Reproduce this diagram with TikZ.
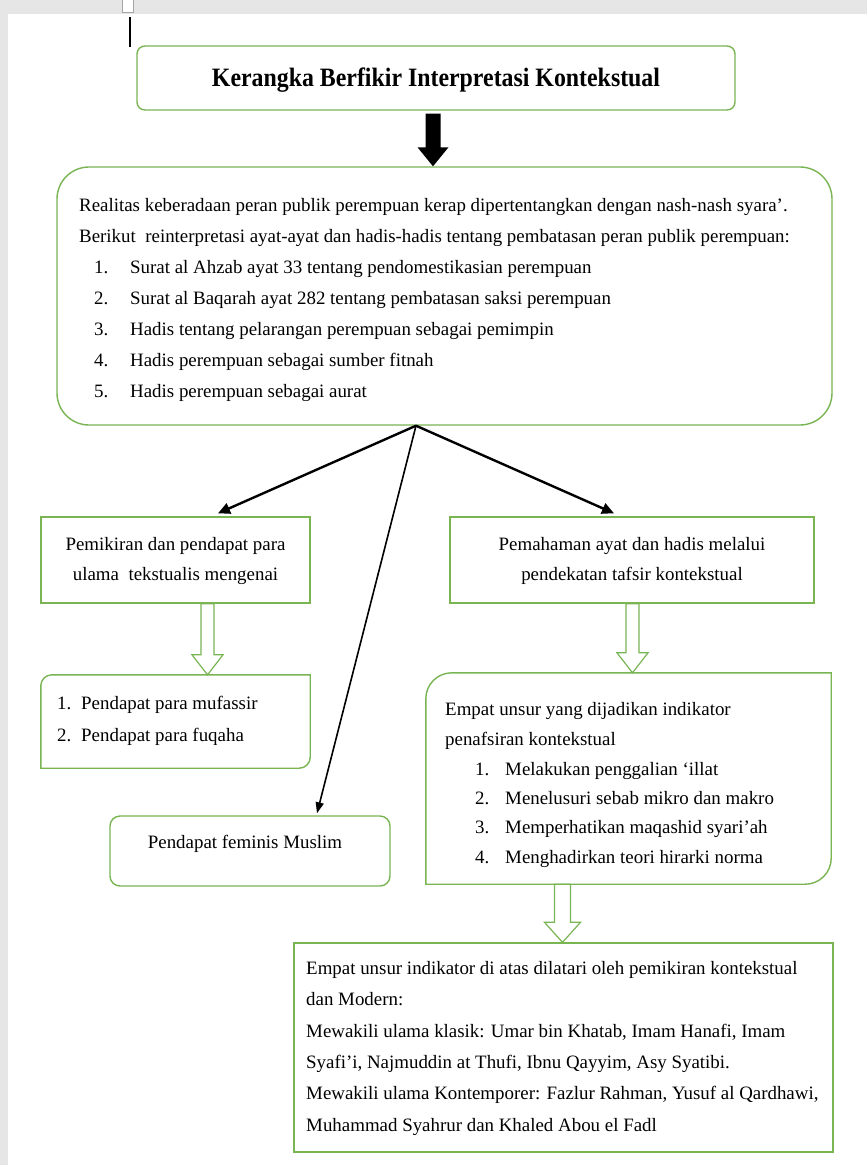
\documentclass[tikz,border=0pt]{standalone}
\usepackage{fontspec}
\setmainfont{Liberation Serif}
\newfontfamily\titlefont{Liberation Serif}[FakeStretch=0.9]
\usetikzlibrary{calc,arrows.meta}
\definecolor{gline}{RGB}{122,181,84}
\definecolor{pagegray}{RGB}{230,230,230}
\newcommand\hollowarrow[5]{% #1 top coord, #2 tip coord, #3 half shaft, #4 half head, #5 head length
  \draw[harrow] ($(#1)+(-#3,0)$) -- ($(#2)+(-#3,-#5)$) -- ($(#2)+(-#4,-#5)$) -- (#2)
    -- ($(#2)+(#4,-#5)$) -- ($(#2)+(#3,-#5)$) -- ($(#1)+(#3,0)$) -- cycle;}
% diagonal rounded box: #1 node name, #2 radius, #3 control offset (0.448*radius)
\newcommand\diagbox[3]{%
  \draw[gline, fill=white] (#1.south west) -- ($(#1.north west)+(0,#2)$)
    .. controls ($(#1.north west)+(0,#3)$) and ($(#1.north west)+(#3,0)$) .. ($(#1.north west)+(#2,0)$)
    -- (#1.north east) -- ($(#1.south east)+(0,-#2)$)
    .. controls ($(#1.south east)+(0,-#3)$) and ($(#1.south east)+(-#3,0)$) .. ($(#1.south east)+(-#2,0)$)
    -- cycle;}
\begin{document}
\begin{tikzpicture}[x=1pt,y=-1pt,
  body/.style={inner sep=0pt, anchor=base west, font=\fontsize{18.9}{22}\selectfont},
  cbody/.style={inner sep=0pt, anchor=base, font=\fontsize{18.9}{22}\selectfont},
  gbox/.style={draw=gline, line width=1.4pt, fill=white, inner sep=0pt},
  frame/.style={draw=none, inner sep=0pt},
  gline/.style={draw=gline, line width=1.4pt},
  harrow/.style={draw=gline, line width=1.2pt, fill=white},
  barrow/.style={line width=2.4pt, -{Triangle[length=12pt,width=11pt]}},
  marrow/.style={line width=1.6pt, -{Triangle[length=11pt,width=8pt]}}]
\useasboundingbox (0,0) rectangle (867,1165);
% page background (screenshot chrome)
\fill[white] (0,0) rectangle (867,1165);
\fill[pagegray] (0,0) rectangle (867,14);
\fill[pagegray] (0,0) rectangle (8,1165);
\draw[gray!70, fill=white, line width=0.8pt] (122,0) -- (122,12.5) -- (133,12.5) -- (133,0);
\draw[black, line width=1.1pt] (130,17) -- (130,47);

% boxes
\node[gbox, rounded corners=8pt, minimum width=598pt, minimum height=64pt] (T) at (436,78) {};
\node[gbox, rounded corners=32pt, minimum width=775pt, minimum height=258pt] (R) at (444.5,296) {};
\node[gbox, minimum width=269pt, minimum height=86pt] (L) at (175.5,560) {};
\node[gbox, minimum width=364pt, minimum height=86pt] (Q) at (632,560) {};
\node[frame, minimum width=269pt, minimum height=93pt] (M) at (175.5,721.5) {};
\diagbox{M}{11}{4.9}
\node[gbox, rounded corners=10pt, minimum width=280pt, minimum height=70pt] (F) at (250,851) {};
\node[frame, minimum width=405pt, minimum height=211pt] (E) at (628.5,778.5) {};
\diagbox{E}{26}{11.6}
\node[gbox, minimum width=539pt, minimum height=209pt] (B) at (563.5,1047.5) {};

% title text
\node[inner sep=0pt, anchor=base, font=\titlefont\bfseries\fontsize{26.5}{30}\selectfont] (tt) at (436,86) {Kerangka Berfikir Interpretasi Kontekstual};

% realitas text
\node[body] (r1) at (79,211) {Realitas keberadaan peran publik perempuan kerap dipertentangkan dengan nash-nash syara’.};
\node[body] (r2) at (79,242) {Berikut\ \ reinterpretasi ayat-ayat dan hadis-hadis tentang pembatasan peran publik perempuan:};
\node[body] (n1) at (94,273) {1.};
\node[body] (i1) at (130,273) {Surat al Ahzab ayat 33 tentang pendomestikasian perempuan};
\node[body] (n2) at (94,304) {2.};
\node[body] (i2) at (130,304) {Surat al Baqarah ayat 282 tentang pembatasan saksi perempuan};
\node[body] (n3) at (94,335) {3.};
\node[body] (i3) at (130,335) {Hadis tentang pelarangan perempuan sebagai pemimpin};
\node[body] (n4) at (94,366) {4.};
\node[body] (i4) at (130,366) {Hadis perempuan sebagai sumber fitnah};
\begin{scope}
\clip (0,0) rectangle (867,401);
\node[body] (n5) at (94,397) {5.};
\node[body] (i5) at (130,397) {Hadis perempuan sebagai aurat};
\end{scope}

% left / right boxes text
\node[cbody] (l1) at (175.5,550) {Pemikiran dan pendapat para};
\node[cbody] (l2) at (175.5,580) {ulama\ \ tekstualis mengenai};
\node[cbody] (q1) at (632,550) {Pemahaman ayat dan hadis melalui};
\node[cbody] (q2) at (632,580) {pendekatan tafsir kontekstual};

% mufassir box text
\node[body] (mn1) at (57,709) {1.};
\node[body] (m1) at (81,709) {Pendapat para mufassir};
\node[body] (mn2) at (57,741) {2.};
\node[body] (m2) at (81,741) {Pendapat para fuqaha};

% feminis text
\node[cbody] (f1) at (245,848) {Pendapat feminis Muslim};

% empat box text
\node[body] (e1) at (445,715) {Empat unsur yang dijadikan indikator};
\node[body] (e2) at (445,745) {penafsiran kontekstual};
\node[body] (en1) at (475,775) {1.};
\node[body] (ei1) at (505,775) {Melakukan penggalian ‘illat};
\node[body] (en2) at (475,804) {2.};
\node[body] (ei2) at (505,804) {Menelusuri sebab mikro dan makro};
\node[body] (en3) at (475,833) {3.};
\node[body] (ei3) at (505,833) {Memperhatikan maqashid syari’ah};
\node[body] (en4) at (475,863) {4.};
\node[body] (ei4) at (505,863) {Menghadirkan teori hirarki norma};

% bottom box text
\node[body] (b1) at (306,974) {Empat unsur indikator di atas dilatari oleh pemikiran kontekstual};
\node[body] (b2) at (306,1005) {dan Modern:};
\node[body] (b3) at (306,1037) {Mewakili ulama klasik: Umar bin Khatab, Imam Hanafi, Imam};
\node[body] (b4) at (306,1068) {Syafi’i, Najmuddin at Thufi, Ibnu Qayyim, Asy Syatibi.};
\node[body] (b5) at (306,1099) {Mewakili ulama Kontemporer: Fazlur Rahman, Yusuf al Qardhawi,};
\node[body] (b6) at (306,1131) {Muhammad Syahrur dan Khaled Abou el Fadl};

% black block arrow title -> realitas
\coordinate (ka0) at (433,0 |- T.south);
\coordinate (ka) at ($(ka0)+(0,3)$);
\coordinate (kb) at (433,0 |- R.north);
\fill[black] ($(ka)+(-7.5,0)$) -- ($(kb)+(-7.5,-19)$) -- ($(kb)+(-15.5,-19)$) -- (kb)
  -- ($(kb)+(15.5,-19)$) -- ($(kb)+(7.5,-19)$) -- ($(ka)+(7.5,0)$) -- cycle;

% branching arrows
\coordinate (src) at (416,0 |- R.south);
\coordinate (lt0) at (218,0 |- L.north);
\coordinate (lt) at ($(lt0)+(0,-3)$);
\coordinate (qt0) at (614,0 |- Q.north);
\coordinate (qt) at ($(qt0)+(0,-3)$);
\coordinate (ft0) at (317,0 |- F.north);
\coordinate (ft) at ($(ft0)+(0,-2)$);
\draw[barrow] (src) -- (lt);
\draw[barrow] (src) -- (qt);
\draw[marrow] (src) -- (ft);

% hollow green arrows
\coordinate (ha1) at (207.5,0 |- L.south);
\coordinate (hb1) at (207.5,0 |- M.north);
\hollowarrow{ha1}{hb1}{6.5}{15.5}{20}
\coordinate (ha2) at (632.5,0 |- Q.south);
\coordinate (hb2) at (632.5,0 |- E.north);
\hollowarrow{ha2}{hb2}{6.5}{15.5}{20}
\coordinate (ha3) at (562.5,0 |- E.south);
\coordinate (hb3) at (562.5,0 |- B.north);
\hollowarrow{ha3}{hb3}{8}{18}{20}
\end{tikzpicture}
\end{document}
